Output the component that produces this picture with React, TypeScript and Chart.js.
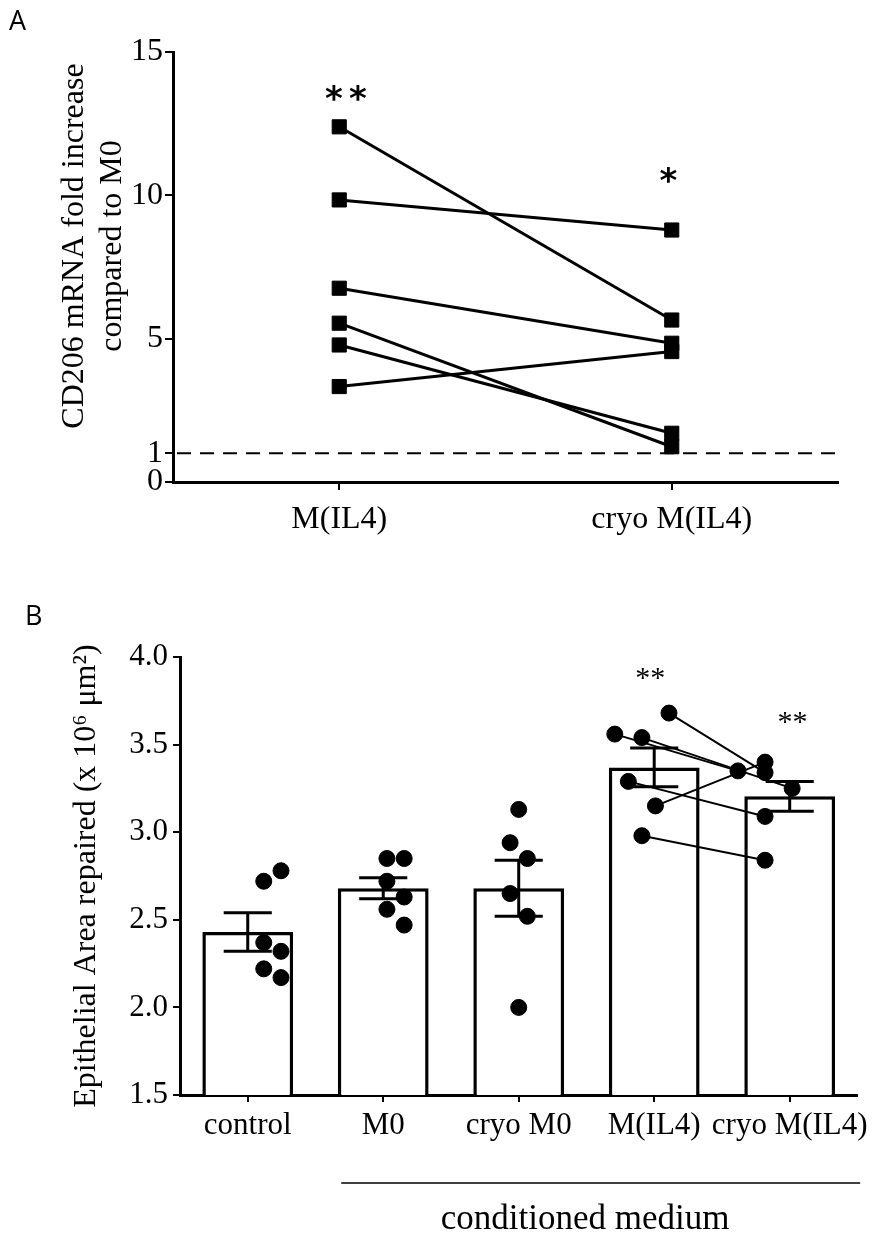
import React, { useEffect, useRef } from "react";
import { Chart, registerables } from "chart.js";

Chart.register(...registerables);

const SERIF = "'Liberation Serif', 'Times New Roman', Times, serif";
const SANS = "'DejaVu Sans', sans-serif";

// ---------- Panel A data ----------
const aCategories = ["M(IL4)", "cryo M(IL4)"];
const aMIL4 = [12.39, 9.84, 6.76, 5.54, 4.78, 3.33];
const aCryoMIL4 = [5.65, 8.79, 4.84, 1.23, 1.7, 4.55];
const aYTicks = [0, 1, 5, 10, 15];
const aRefLine = 1;
const aTitle = ["CD206 mRNA fold increase", "compared to M0"];
const aStars = [
  { x: 0.02, y: 13.57, text: "**" },
  { x: 0.99, y: 10.7, text: "*" },
];

// ---------- Panel B data ----------
const bCategories = ["control", "M0", "cryo M0", "M(IL4)", "cryo M(IL4)"];
const bMeans = [2.43, 2.68, 2.68, 3.37, 3.205];
const bSem = [0.11, 0.06, 0.16, 0.11, 0.085];
const bControl = [2.72, 2.78, 2.37, 2.32, 2.22, 2.17];
const bM0 = [2.85, 2.85, 2.72, 2.63, 2.56, 2.47];
const bCryoM0 = [3.13, 2.94, 2.85, 2.65, 2.52, 2.0];
const bMIL4 = [3.56, 3.54, 3.68, 3.29, 3.15, 2.98];
const bCryoMIL4 = [3.35, 3.4, 3.34, 3.25, 3.09, 2.84];
// horizontal spread of each dot inside its category (category units)
const bSpreadPair = [-0.07, 0.07, -0.07, 0.07, -0.07, 0.07];
const bSpreadCryoM0 = [0, -0.07, 0.07, -0.07, 0.07, 0];
const bSpreadMIL4 = [-0.22, 0, 0.22, -0.11, 0.11, 0];
const bSpreadCryoMIL4 = [-0.22, 0, 0, 0.22, 0, 0];
// paired donors: index in bMIL4 -> index in bCryoMIL4
const bPairs = [
  [0, 0],
  [1, 3],
  [2, 2],
  [3, 4],
  [4, 1],
  [5, 5],
];
const bYTicks = [1.5, 2.0, 2.5, 3.0, 3.5, 4.0];
const bStars = [
  { x: 2.97, y: 3.907, text: "**" },
  { x: 4.02, y: 3.656, text: "**" },
];
const bYTitle = "Epithelial Area repaired (x 10\u2076 \u03BCm\u00B2)";
const bGroupLabel = "conditioned medium";
const bGroupSpan = [0.69, 4.52];
const bGroupLabelX = 2.49;

function drawStars(ctx: CanvasRenderingContext2D, text: string, cx: number, cy: number, font: string, spacing: number) {
  ctx.save();
  ctx.font = font;
  ctx.fillStyle = "#000";
  ctx.textAlign = "center";
  ctx.textBaseline = "alphabetic";
  const m = ctx.measureText("*");
  const base = cy + (m.actualBoundingBoxAscent - m.actualBoundingBoxDescent) / 2;
  const n = text.length;
  for (let k = 0; k < n; k++) {
    ctx.fillText(text[k], cx + (k - (n - 1) / 2) * spacing, base);
  }
  ctx.restore();
}

const panelAPlugin = {
  id: "panelAExtras",
  beforeDatasetsDraw(chart: any) {
    const { ctx, chartArea, scales } = chart;
    const py = scales.y.getPixelForValue(aRefLine);
    ctx.save();
    ctx.strokeStyle = "#000";
    ctx.lineWidth = 2;
    ctx.setLineDash([14, 9]);
    ctx.beginPath();
    ctx.moveTo(chartArea.left + 4, py);
    ctx.lineTo(chartArea.right - 3, py);
    ctx.stroke();
    ctx.restore();
  },
  afterDraw(chart: any) {
    const { ctx, scales, chartArea } = chart;
    aStars.forEach((s) =>
      drawStars(ctx, s.text, scales.x.getPixelForValue(s.x), scales.y.getPixelForValue(s.y), `bold 34px ${SANS}`, 24)
    );
    const cy = (chartArea.top + chartArea.bottom) / 2 - 21;
    ctx.save();
    ctx.font = `32px ${SERIF}`;
    ctx.fillStyle = "#000";
    ctx.textAlign = "center";
    ctx.textBaseline = "alphabetic";
    aTitle.forEach((line, k) => {
      ctx.save();
      ctx.translate(83 + k * 38, cy);
      ctx.rotate(-Math.PI / 2);
      ctx.fillText(line, 0, 0);
      ctx.restore();
    });
    ctx.restore();
  },
};

const panelBPlugin = {
  id: "panelBExtras",
  afterDatasetDraw(chart: any, args: any) {
    if (args.index !== 0) return;
    const { ctx, scales } = chart;
    const meta = chart.getDatasetMeta(0);
    ctx.save();
    ctx.strokeStyle = "#000";
    ctx.lineWidth = 3;
    bMeans.forEach((m, i) => {
      const x = scales.x.getPixelForValue(i);
      const hw = meta.data[i].width * 0.265;
      const yHi = scales.y.getPixelForValue(m + bSem[i]);
      const yLo = scales.y.getPixelForValue(m - bSem[i]);
      ctx.beginPath();
      ctx.moveTo(x, yLo);
      ctx.lineTo(x, yHi);
      ctx.moveTo(x - hw, yHi);
      ctx.lineTo(x + hw, yHi);
      ctx.moveTo(x - hw, yLo);
      ctx.lineTo(x + hw, yLo);
      ctx.stroke();
    });
    ctx.restore();
  },
  afterDraw(chart: any) {
    const { ctx, scales, chartArea } = chart;
    bStars.forEach((s) =>
      drawStars(ctx, s.text, scales.x.getPixelForValue(s.x), scales.y.getPixelForValue(s.y), `30px ${SERIF}`, 15)
    );
    const ly = chartArea.bottom + 88;
    ctx.save();
    ctx.strokeStyle = "#000";
    ctx.lineWidth = 1.5;
    ctx.beginPath();
    ctx.moveTo(scales.x.getPixelForValue(bGroupSpan[0]), ly);
    ctx.lineTo(scales.x.getPixelForValue(bGroupSpan[1]), ly);
    ctx.stroke();
    ctx.font = `35px ${SERIF}`;
    ctx.fillStyle = "#000";
    ctx.textAlign = "center";
    ctx.textBaseline = "alphabetic";
    ctx.fillText(bGroupLabel, scales.x.getPixelForValue(bGroupLabelX), chartArea.bottom + 134);
    ctx.restore();
  },
};

const axisGrid = {
  display: true,
  drawOnChartArea: false,
  drawTicks: true,
  tickLength: 8,
  color: "#000",
  lineWidth: 2,
  offset: false,
};
const axisBorder = { display: true, color: "#000", width: 3 };

export default function App() {
  const refA = useRef<HTMLCanvasElement>(null);
  const refB = useRef<HTMLCanvasElement>(null);

  useEffect(() => {
    const chartA = new Chart(refA.current as HTMLCanvasElement, {
      type: "line",
      data: {
        labels: aCategories,
        datasets: aMIL4.map((v, i) => ({
          data: [v, aCryoMIL4[i]],
          borderColor: "#000",
          backgroundColor: "#000",
          borderWidth: 3,
          pointStyle: "rect",
          pointRadius: 10,
          pointBorderWidth: 1,
          pointBackgroundColor: "#000",
          pointBorderColor: "#000",
          tension: 0,
        })),
      },
      options: {
        animation: false,
        responsive: false,
        devicePixelRatio: 1,
        layout: { padding: { top: 52, right: 36, left: 0, bottom: 0 } },
        plugins: { legend: { display: false }, tooltip: { enabled: false } },
        scales: {
          x: {
            type: "category",
            offset: true,
            grid: axisGrid,
            border: axisBorder,
            ticks: {
              color: "#000",
              font: { family: SERIF, size: 32 },
              padding: 10,
              maxRotation: 0,
              minRotation: 0,
              autoSkip: false,
            },
            afterFit: (s: any) => {
              s.height = 78;
            },
          },
          y: {
            type: "linear",
            min: 0,
            max: 15,
            grid: axisGrid,
            border: axisBorder,
            afterBuildTicks: (s: any) => {
              s.ticks = aYTicks.map((v) => ({ value: v }));
            },
            ticks: {
              color: "#000",
              font: { family: SERIF, size: 32 },
              padding: 2,
              callback: (v: any) => String(v),
            },
            afterFit: (s: any) => {
              s.width = 173;
            },
          },
        },
      } as any,
      plugins: [panelAPlugin],
    });

    const groups: [number[], number[]][] = [
      [bControl, bSpreadPair],
      [bM0, bSpreadPair],
      [bCryoM0, bSpreadCryoM0],
      [bMIL4, bSpreadMIL4],
      [bCryoMIL4, bSpreadCryoMIL4],
    ];
    const dots = groups.flatMap(([vals, spread], i) => vals.map((v, k) => ({ x: i + spread[k], y: v })));

    const chartB = new Chart(refB.current as HTMLCanvasElement, {
      type: "bar",
      data: {
        labels: bCategories,
        datasets: [
          {
            type: "bar",
            data: bMeans,
            xAxisID: "x",
            yAxisID: "y",
            backgroundColor: "#fff",
            borderColor: "#000",
            borderWidth: 3.5,
            grouped: false,
            barPercentage: 0.67,
            categoryPercentage: 1,
            order: 10,
          },
          ...bPairs.map(([a, c]) => ({
            type: "line",
            xAxisID: "xd",
            yAxisID: "y",
            data: [
              { x: 3 + bSpreadMIL4[a], y: bMIL4[a] },
              { x: 4 + bSpreadCryoMIL4[c], y: bCryoMIL4[c] },
            ],
            borderColor: "#000",
            borderWidth: 2,
            pointRadius: 0,
            tension: 0,
            order: 5,
          })),
          {
            type: "scatter",
            xAxisID: "xd",
            yAxisID: "y",
            data: dots,
            pointRadius: 8,
            pointBackgroundColor: "#000",
            pointBorderColor: "#000",
            backgroundColor: "#000",
            borderColor: "#000",
            order: 0,
          },
        ],
      } as any,
      options: {
        animation: false,
        responsive: false,
        devicePixelRatio: 1,
        layout: { padding: { top: 77, right: 14, left: 0, bottom: 0 } },
        plugins: { legend: { display: false }, tooltip: { enabled: false } },
        scales: {
          x: {
            type: "category",
            offset: true,
            grid: { ...axisGrid, tickLength: 7 },
            border: axisBorder,
            ticks: {
              color: "#000",
              font: { family: SERIF, size: 31 },
              padding: 5,
              maxRotation: 0,
              minRotation: 0,
              autoSkip: false,
            },
            afterFit: (s: any) => {
              s.height = 141;
            },
          },
          xd: { type: "linear", display: false, min: -0.5, max: 4.5 },
          y: {
            type: "linear",
            min: 1.5,
            max: 4.0,
            grid: { ...axisGrid, tickLength: 7 },
            border: axisBorder,
            afterBuildTicks: (s: any) => {
              s.ticks = bYTicks.map((v) => ({ value: v }));
            },
            ticks: {
              color: "#000",
              font: { family: SERIF, size: 31 },
              padding: 5,
              callback: (v: any) => Number(v).toFixed(1),
            },
            title: {
              display: true,
              text: bYTitle,
              color: "#000",
              font: { family: SERIF, size: 32 },
              padding: { top: 67, bottom: 0 },
            },
            afterFit: (s: any) => {
              s.width = 180;
            },
          },
        },
      } as any,
      plugins: [panelBPlugin],
    });

    return () => {
      chartA.destroy();
      chartB.destroy();
    };
  }, []);

  return (
    <div style={{ position: "absolute", left: 0, top: 0, width: 874, height: 1236, background: "#fff", overflow: "hidden" }}>
      <canvas ref={refA} width={874} height={560} style={{ position: "absolute", left: 0, top: 0 }} />
      <canvas ref={refB} width={874} height={656} style={{ position: "absolute", left: 0, top: 580 }} />
      <div style={{ position: "absolute", left: 9, top: 6, fontFamily: "'Open Sans', sans-serif", fontSize: 27, lineHeight: 1, color: "#000" }}>
        A
      </div>
      <div style={{ position: "absolute", left: 25, top: 601, fontFamily: "'Open Sans', sans-serif", fontSize: 27, lineHeight: 1, color: "#000" }}>
        B
      </div>
    </div>
  );
}
